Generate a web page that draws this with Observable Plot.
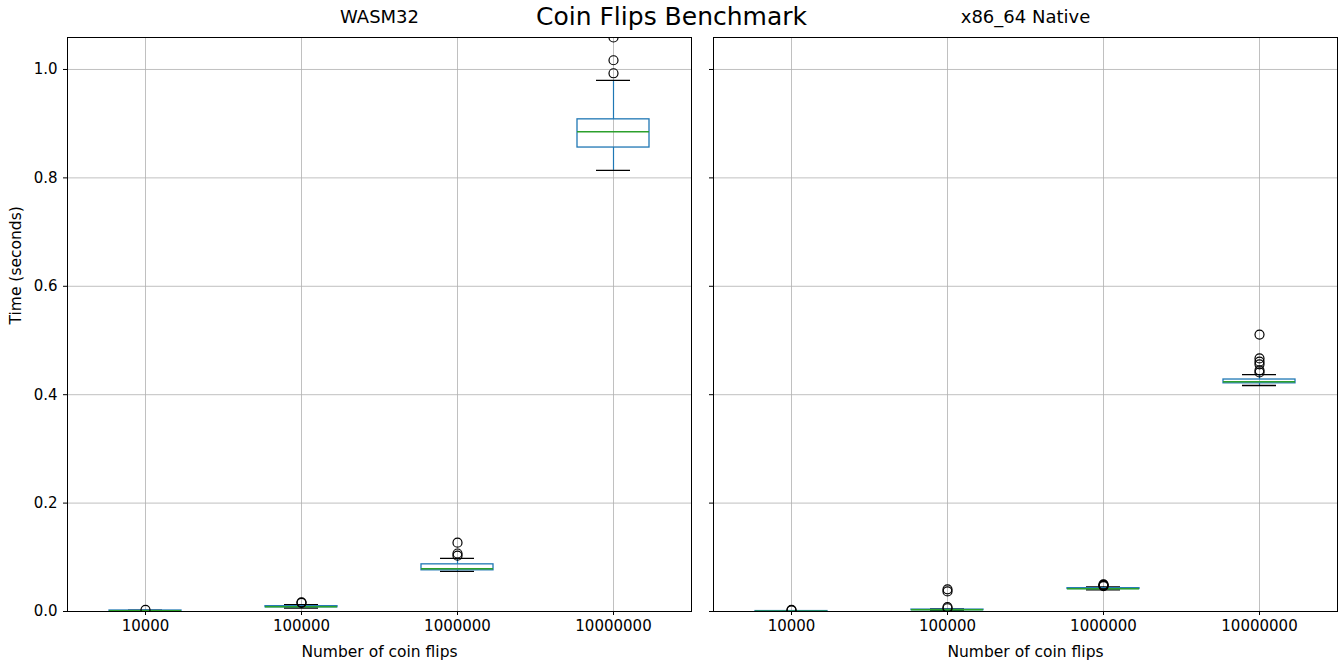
<!DOCTYPE html>
<html>
<head>
<meta charset="utf-8">
<script src="https://cdn.jsdelivr.net/npm/d3@7"></script>
<script src="https://cdn.jsdelivr.net/npm/@observablehq/plot@0.6"></script>
<style>
  html, body { margin: 0; padding: 0; background: #fff; }
  #wrap { position: relative; width: 1343px; height: 661px; font-family: "DejaVu Sans", sans-serif; }
  #wrap svg { position: absolute; top: 0; }
  #title { position: absolute; left: 0; width: 1343px; top: 2px; text-align: center; font-size: 25px; line-height: 30px; color: #000; z-index: 2; }
</style>
</head>
<body>
<div id="wrap"><div id="title">Coin Flips Benchmark</div></div>
<script>
const categories = ["10000", "100000", "1000000", "10000000"];
const yTicks = [0, 0.2, 0.4, 0.6, 0.8, 1.0];
const panelTitles = ["WASM32", "x86_64 Native"];
const xLabel = "Number of coin flips";
const yLabel = "Time (seconds)";

// WASM32 box statistics
const wasmLo  = [0.0008, 0.0065, 0.074, 0.814];
const wasmQ1  = [0.0012, 0.0078, 0.076, 0.856];
const wasmMed = [0.0015, 0.0088, 0.079, 0.885];
const wasmQ3  = [0.0018, 0.0098, 0.087, 0.908];
const wasmHi  = [0.0025, 0.0125, 0.098, 0.980];
const wasmOutliers = [[0.003], [0.016, 0.017], [0.103, 0.107, 0.127], [0.993, 1.017, 1.059]];

// x86_64 native box statistics
const nativeLo  = [0.0003, 0.0015, 0.0400, 0.417];
const nativeQ1  = [0.0005, 0.0025, 0.0415, 0.421];
const nativeMed = [0.0006, 0.0030, 0.0420, 0.424];
const nativeQ3  = [0.0008, 0.0035, 0.0430, 0.428];
const nativeHi  = [0.0012, 0.0050, 0.0455, 0.437];
const nativeOutliers = [[0.002, 0.003], [0.006, 0.008, 0.037, 0.041], [0.047, 0.048, 0.049, 0.050], [0.441, 0.445, 0.456, 0.461, 0.467, 0.511]];

function buildRows(lo, q1, med, q3, hi) {
  return categories.map((c, i) => ({cat: c, lo: lo[i], q1: q1[i], med: med[i], q3: q3[i], hi: hi[i]}));
}
function buildOutliers(out) {
  return out.flatMap((vals, i) => vals.map(v => ({cat: categories[i], v})));
}

function panel({rows, outliers, title, showYLabels, marginLeft, marginRight, width}) {
  const boxInset = 42, capInset = 61;
  const marks = [
    Plot.gridY(yTicks, {stroke: "#b0b0b0", strokeOpacity: 1, strokeWidth: 0.8}),
    Plot.gridX(categories, {x: d => d, stroke: "#b0b0b0", strokeOpacity: 1, strokeWidth: 0.8}),
    // whiskers
    Plot.ruleX(rows, {x: "cat", y1: "lo", y2: "q1", stroke: "#1f77b4", strokeWidth: 1.2}),
    Plot.ruleX(rows, {x: "cat", y1: "q3", y2: "hi", stroke: "#1f77b4", strokeWidth: 1.2}),
    // caps
    Plot.tickY(rows, {x: "cat", y: "lo", stroke: "black", strokeWidth: 1.3, insetLeft: capInset, insetRight: capInset}),
    Plot.tickY(rows, {x: "cat", y: "hi", stroke: "black", strokeWidth: 1.3, insetLeft: capInset, insetRight: capInset}),
    // box
    Plot.rect(rows, {x: "cat", y1: "q1", y2: "q3", fill: "none", stroke: "#1f77b4", strokeWidth: 1.3, insetLeft: boxInset, insetRight: boxInset}),
    // median
    Plot.tickY(rows, {x: "cat", y: "med", stroke: "#2ca02c", strokeWidth: 1.5, insetLeft: boxInset, insetRight: boxInset}),
    // fliers
    Plot.dot(outliers, {x: "cat", y: "v", r: 4.5, stroke: "black", strokeWidth: 1.2, fill: "none", clip: true}),
    Plot.frame({stroke: "black", strokeWidth: 1}),
    Plot.axisX({tickSize: 4, tickPadding: 5, label: null, fontSize: 15}),
    Plot.axisY(yTicks, {tickSize: 4, label: null, fontSize: 15, tickPadding: 6,
      tickFormat: showYLabels ? d3.format(".1f") : () => ""}),
    Plot.text([title], {frameAnchor: "top", dy: -27, fontSize: 18, fill: "black"}),
    Plot.text([xLabel], {frameAnchor: "bottom", dy: 45, fontSize: 15.5, fill: "black"})
  ];
  if (showYLabels) {
    marks.push(Plot.text([yLabel], {frameAnchor: "left", dx: -51, rotate: -90, fontSize: 15.5, fill: "black"}));
  }
  return Plot.plot({
    width, height: 661,
    marginLeft, marginRight, marginTop: 37, marginBottom: 50,
    style: {fontFamily: "DejaVu Sans, sans-serif", fontSize: "15px", color: "black", background: "transparent", overflow: "visible"},
    x: {type: "band", domain: categories, padding: 0},
    y: {domain: [0, 1.059]},
    marks
  });
}

const wrap = document.getElementById("wrap");
const left = panel({rows: buildRows(wasmLo, wasmQ1, wasmMed, wasmQ3, wasmHi), outliers: buildOutliers(wasmOutliers),
  title: panelTitles[0], showYLabels: true, marginLeft: 67, marginRight: 11, width: 702});
left.style.left = "0px";
const right = panel({rows: buildRows(nativeLo, nativeQ1, nativeMed, nativeQ3, nativeHi), outliers: buildOutliers(nativeOutliers),
  title: panelTitles[1], showYLabels: false, marginLeft: 11, marginRight: 6, width: 641});
right.style.left = "702px";
wrap.appendChild(left);
wrap.appendChild(right);
</script>
</body>
</html>
